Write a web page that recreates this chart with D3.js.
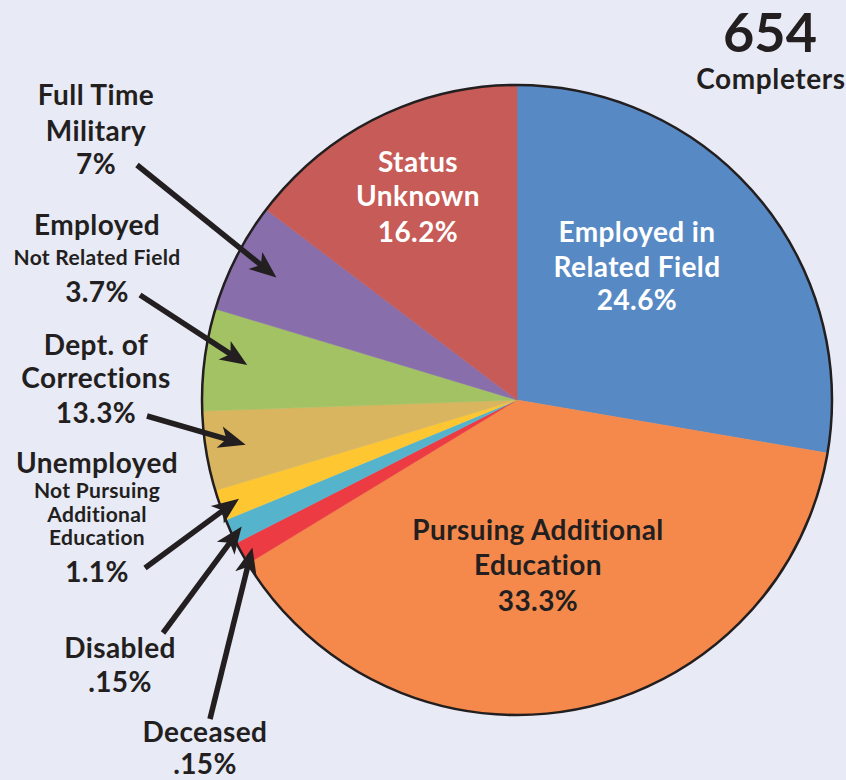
<!DOCTYPE html>
<html>
<head>
<meta charset="utf-8" />
<style>
    body { margin: 0; background: #e8eaf6; }
    svg { display: block; }
    text { font-family: Lato, "Open Sans", sans-serif; font-weight: bold; }
</style>
</head>
<body>
<svg width="846" height="780"></svg>
<script src="https://cdnjs.cloudflare.com/ajax/libs/d3/7.8.5/d3.min.js"></script>
<script>
    // slices clockwise from 12 o'clock; share = visual size of each wedge (degrees)
    var categories = ["Employed in Related Field", "Pursuing Additional Education", "Deceased", "Disabled",
        "Unemployed Not Pursuing Additional Education", "Dept. of Corrections", "Employed Not Related Field",
        "Full Time Military", "Status Unknown"];
    var shares = [99.7, 139.0, 4.3, 4.6, 5.7, 14.7, 18.8, 20.4, 52.8];
    var pctLabels = ["24.6%", "33.3%", ".15%", ".15%", "1.1%", "13.3%", "3.7%", "7%", "16.2%"];
    var colors = ["#578ac4", "#f4894b", "#ec3b43", "#56b3cc", "#fec631", "#d8b55e", "#a3c263", "#886fab", "#c65b57"];

    var total = 654;
    var totalLabel = "Completers";

    // label text per slice: [text, size] ; size "b" big, "s" small
    var labelLines = [
        [["Employed in", "b"], ["Related Field", "b"]],
        [["Pursuing Additional", "b"], ["Education", "b"]],
        [["Deceased", "b"]],
        [["Disabled", "b"]],
        [["Unemployed", "b"], ["Not Pursuing", "s"], ["Additional", "s"], ["Education", "s"]],
        [["Dept. of", "b"], ["Corrections", "b"]],
        [["Employed", "b"], ["Not Related Field", "s"]],
        [["Full Time", "b"], ["Military", "b"]],
        [["Status", "b"], ["Unknown", "b"]]
    ];

    var svg = d3.select("svg");
    var cx = 517, cy = 400, radius = 315;
    var dark = "#231f20";

    var pie = d3.pie().sort(null).value(function (d) { return d; });
    var arcs = pie(shares);
    var arc = d3.arc().innerRadius(0).outerRadius(radius);

    var g = svg.append("g").attr("transform", "translate(" + cx + "," + cy + ")");

    g.selectAll("path.slice")
        .data(arcs)
        .enter().append("path")
        .attr("class", "slice")
        .attr("d", arc)
        .attr("fill", function (d, i) { return colors[i]; })
        .attr("stroke", function (d, i) { return colors[i]; })
        .attr("stroke-width", 0.5);

    // outline
    g.append("circle")
        .attr("r", radius)
        .attr("fill", "none")
        .attr("stroke", dark)
        .attr("stroke-width", 2.5);

    // label layout: x, first baseline, line gaps, text colour, arrow (tip radius, start point)
    var layout = [
        { x: 637, y: 242, gaps: [35, 33], fill: "#fff" },
        { x: 538, y: 540, gaps: [35, 36], fill: dark },
        { x: 205, y: 742, gaps: [32], fill: dark, tipR: 303, from: [210, 719] },
        { x: 120, y: 658, gaps: [34], fill: dark, tipR: 303, from: [163, 633] },
        { x: 97, y: 473, gaps: [25, 24, 23, 37], fill: dark, tipR: 295, from: [145, 568] },
        { x: 96, y: 355, gaps: [33, 35], fill: dark, tipR: 275, from: [147, 416] },
        { x: 97, y: 235, gaps: [30, 37], fill: dark, tipR: 272, from: [140, 295] },
        { x: 96, y: 105, gaps: [36, 33], fill: dark, tipR: 270, from: [137, 165] },
        { x: 418, y: 172, gaps: [34, 36], fill: "#fff" }
    ];
    var sizeOf = { b: 28, s: 21 };

    categories.forEach(function (c, i) {
        var L = layout[i];
        var t = svg.append("text")
            .attr("text-anchor", "middle")
            .attr("fill", L.fill);
        var y = L.y;
        var lines = labelLines[i].concat([[pctLabels[i], "b"]]);
        lines.forEach(function (ln, j) {
            if (j > 0) y += L.gaps[j - 1];
            t.append("tspan")
                .attr("x", L.x)
                .attr("y", y)
                .style("font-size", sizeOf[ln[1]] + "px")
                .style("letter-spacing", ln[1] == "b" ? "0.4px" : "0.3px")
                .text(ln[0]);
        });
    });

    // arrows from labels into the small slices
    arcs.forEach(function (d, i) {
        var L = layout[i];
        if (!L.tipR) return;
        var a = (d.startAngle + d.endAngle) / 2;
        var tx = cx + L.tipR * Math.sin(a), ty = cy - L.tipR * Math.cos(a);
        var sx = L.from[0], sy = L.from[1];
        var dx = tx - sx, dy = ty - sy, len = Math.sqrt(dx * dx + dy * dy);
        var ux = dx / len, uy = dy / len;
        var headLen = 27, headW = 11, notch = 7;
        var bx = tx - ux * headLen, by = ty - uy * headLen;
        var nx = tx - ux * (headLen - notch), ny = ty - uy * (headLen - notch);
        svg.append("line")
            .attr("x1", sx).attr("y1", sy)
            .attr("x2", nx + ux * 2).attr("y2", ny + uy * 2)
            .attr("stroke", dark)
            .attr("stroke-width", 5.5);
        svg.append("path")
            .attr("d", "M" + tx + "," + ty +
                "L" + (bx - uy * headW) + "," + (by + ux * headW) +
                "L" + nx + "," + ny +
                "L" + (bx + uy * headW) + "," + (by - ux * headW) + "Z")
            .attr("fill", dark);
    });

    // total
    svg.append("text")
        .attr("x", 770).attr("y", 52)
        .attr("text-anchor", "middle")
        .attr("fill", dark)
        .style("font-size", "54px")
        .text(total);
    svg.append("text")
        .attr("x", 771).attr("y", 89)
        .attr("text-anchor", "middle")
        .attr("fill", dark)
        .style("font-size", "28px")
        .style("letter-spacing", "0.6px")
        .text(totalLabel);
</script>
</body>
</html>
